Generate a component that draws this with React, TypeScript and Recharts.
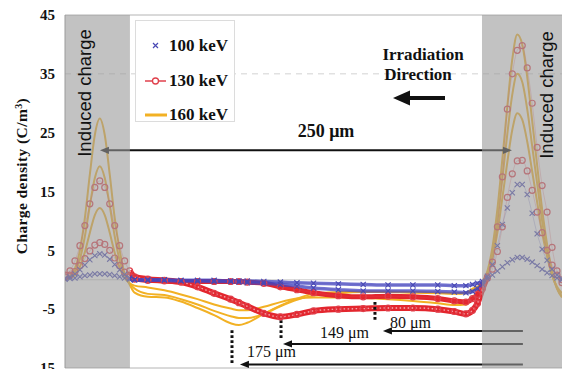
import {
  LineChart,
  Line,
  XAxis,
  YAxis,
  ReferenceArea,
  ReferenceLine,
  Legend
} from "recharts";

/* ---------- DATA (position in um, charge density in C/m3) ---------- */

const positions = [
  0, 3, 6, 9, 12, 15, 18, 21, 24, 27, 30, 33, 36, 39, 42,
  50, 60, 70, 80, 90, 100, 105, 110, 120, 130, 140, 150, 165, 180, 195, 210, 225, 235, 242, 246,
  249, 252, 255, 258, 261, 264, 267, 270, 273, 276, 279, 282, 285, 288, 291, 294, 297, 300
];

// 160 keV, three curves
const kev160a = [
  0.1, 0.6, 1.9, 5.0, 10.5, 17.9, 24.6, 27.4, 24.6, 17.9, 10.5, 5.0, 1.0, -0.8, -2.2,
  -2.9, -3.0, -3.7, -4.8, -6.0, -7.4, -7.7, -7.3, -5.8, -4.4, -3.2, -2.4, -2.1, -2.0, -2.0, -2.1, -2.2, -2.3, -2.2, -1.5,
  -1.2, -0.3, 1.5, 5.5, 12.0, 20.5, 29.5, 37.5, 41.7, 40.0, 34.5, 27.0, 19.5, 12.0, 6.0, 1.5, -1.5, -3.0
];
const kev160b = [
  0.1, 0.4, 1.3, 3.5, 7.4, 12.6, 17.3, 19.3, 17.3, 12.6, 7.4, 3.3, 0.8, -0.6, -1.5,
  -2.4, -2.6, -3.3, -4.2, -5.3, -6.2, -6.5, -6.5, -5.8, -4.5, -3.4, -2.7, -2.3, -2.1, -2.1, -2.2, -2.3, -2.4, -2.3, -1.8,
  -1.4, -0.6, 1.0, 4.5, 10.0, 17.2, 24.8, 31.5, 35.0, 33.6, 29.0, 22.7, 16.4, 10.0, 5.0, 1.0, -1.5, -2.8
];
const kev160c = [
  0, 0.3, 0.8, 2.2, 4.7, 8.0, 11.0, 12.2, 11.0, 8.0, 4.6, 2.0, 0.3, -0.6, -1.0,
  -1.3, -1.8, -2.5, -3.3, -4.2, -4.9, -5.2, -5.2, -4.6, -3.8, -3.2, -3.0, -3.0, -3.1, -3.3, -3.6, -4.0, -4.3, -4.2, -3.0,
  -2.0, -0.8, 0.8, 3.6, 8.0, 13.9, 20.0, 25.5, 28.3, 27.2, 23.5, 18.4, 13.2, 8.0, 4.0, 0.7, -1.2, -2.3
];

// 130 keV, two curves
const kev130a = [
  0.8, 1.5, 3.2, 5.8, 9.2, 12.9, 15.7, 16.8, 15.7, 12.9, 9.2, 5.8, 3.2, 1.5, 0.5,
  0.1, -0.1, -0.4, -1.2, -2.3, -3.3, -3.9, -4.5, -5.7, -6.3, -5.9, -5.3, -5.0, -4.9, -4.8, -4.8, -5.0, -5.4, -5.8, -5.2,
  -4.0, -1.5, 0.5, 3.0, 9.0, 17.5, 29.0, 35.0, 39.0, 39.8, 36.0, 30.0, 22.5, 16.0, 11.5, 5.5, 1.5, -0.5
];
const kev130b = [
  0.5, 0.8, 1.4, 2.4, 3.6, 4.9, 5.9, 6.3, 6.0, 5.0, 3.7, 2.4, 1.3, 0.5, 0.1,
  -0.1, -0.2, -0.3, -0.3, -0.3, -0.3, -0.3, -0.4, -0.6, -1.2, -1.7, -2.2, -2.7, -2.9, -2.8, -2.9, -3.2, -3.6, -3.8, -3.2,
  -2.5, -1.0, 0.3, 1.8, 4.8, 9.0, 14.0, 18.0, 20.2, 20.3, 18.5, 15.2, 11.5, 8.0, 5.0, 2.5, 0.8, 0
];

// 100 keV, two curves
const kev100a = [
  0.2, 0.5, 1.0, 1.7, 2.5, 3.4, 4.1, 4.4, 4.2, 3.5, 2.6, 1.7, 0.9, 0.3, 0,
  -0.1, -0.1, -0.2, -0.2, -0.3, -0.3, -0.4, -0.5, -0.6, -0.8, -1.1, -1.4, -1.7, -1.9, -1.9, -1.9, -2.0, -2.1, -2.2, -2.0,
  -1.5, -0.8, 0.6, 2.6, 5.8, 9.4, 12.2, 14.8, 16.2, 16.2, 14.5, 11.3, 7.8, 5.2, 3.3, 1.8, 0.8, 0.2
];
const kev100b = [
  0.1, 0.2, 0.3, 0.5, 0.7, 0.8, 1.0, 1.0, 1.0, 0.9, 0.7, 0.5, 0.3, 0.1, 0,
  0, 0, -0.1, -0.1, -0.1, -0.2, -0.2, -0.2, -0.3, -0.4, -0.5, -0.6, -0.7, -0.8, -0.9, -0.9, -0.9, -1.0, -1.0, -0.8,
  -0.6, -0.3, 0.2, 0.8, 1.5, 2.2, 2.9, 3.4, 3.8, 3.8, 3.5, 3.0, 2.4, 1.8, 1.2, 0.7, 0.3, 0
];

const yTicks = [-15, -5, 5, 15, 25, 35, 45];
const legendItems = ["100 keV", "130 keV", "160 keV"];

// induced charge regions (um)
const leftBand = [0, 39.2];
const rightBand = [251.7, 300];

// penetration markers: [dotted x, dotted top, dotted bottom, arrow tip x, arrow y]
const depthMarks = [
  [187.1, -3.8, -6.9, 191.9, -8.7],
  [130.4, -6.9, -10.3, 131.6, -10.9],
  [100.8, -8.6, -14.4, 105.6, -14.4]
];
const arrowStart = 276.4;
const spanArrow = [21.1, 269.8, 22.0];

/* ---------- COLORS ---------- */

const GOLD = "#f2b124";
const RED = "#e3262e";
const RED_MARK = "#e0404c";
const BLUE = "#4444c0";
const BLUE_MARK = "#4848b4";
const SERIF = "'Liberation Serif', 'Times New Roman', serif";
const SANS = "'Liberation Sans', Arial, sans-serif";

const rows = positions.map((x, i) => ({
  x,
  y160a: kev160a[i],
  y160b: kev160b[i],
  y160c: kev160c[i],
  r130a: kev130a[i],
  r130b: kev130b[i],
  b100a: kev100a[i],
  b100b: kev100b[i]
}));

const band = rows.filter(r => r.x >= 39 && r.x <= 255);

/* ---------- MARKERS ---------- */

function CrossDot(props: any) {
  const { cx, cy, index } = props;
  if (cx == null || cy == null) return <g key={`n${index}`} />;
  const s = 2.6;
  return (
    <path
      key={`c${index}`}
      d={`M${cx - s},${cy - s}L${cx + s},${cy + s}M${cx - s},${cy + s}L${cx + s},${cy - s}`}
      stroke={BLUE_MARK}
      strokeWidth={1.1}
      fill="none"
    />
  );
}

function ArrowShape(props: any) {
  const { x1, y1, x2, y2, both } = props;
  const head = 9;
  const half = 3.6;
  const dir = x2 > x1 ? 1 : -1;
  const tip = (x: number, y: number, d: number) =>
    `M${x},${y}L${x - d * head},${y - half}L${x - d * head},${y + half}Z`;
  return (
    <g>
      <line
        x1={both ? x1 + dir * head * 0.8 : x1}
        y1={y1}
        x2={x2 - dir * head * 0.8}
        y2={y2}
        stroke="#111"
        strokeWidth={2}
      />
      <path d={tip(x2, y2, dir)} fill="#111" />
      {both && <path d={tip(x1, y1, -dir)} fill="#111" />}
    </g>
  );
}

/* ---------- LEGEND ---------- */

function LegendBox() {
  return (
    <div
      style={{
        width: 100,
        height: 102,
        boxSizing: "border-box",
        border: "1px solid #dcdcdc",
        background: "#fff",
        fontFamily: SERIF,
        fontWeight: "bold",
        fontSize: 17,
        color: "#111",
        paddingTop: 8
      }}
    >
      {legendItems.map((label, i) => (
        <div key={label} style={{ display: "flex", alignItems: "center", height: 34.5 }}>
          <svg width={30} height={12} style={{ marginLeft: 6 }}>
            {i === 0 && (
              <path d="M11,3L16,8M11,8L16,3" stroke={BLUE_MARK} strokeWidth={1.2} />
            )}
            {i === 1 && (
              <g>
                <line x1={3} y1={6} x2={24} y2={6} stroke={RED_MARK} strokeWidth={1.5} />
                <circle cx={13.5} cy={6} r={3} fill="#fff" stroke={RED_MARK} strokeWidth={1.3} />
              </g>
            )}
            {i === 2 && <line x1={3} y1={6} x2={25} y2={6} stroke={GOLD} strokeWidth={3} />}
          </svg>
          <span style={{ marginLeft: -3 }}>{label}</span>
        </div>
      ))}
    </div>
  );
}

export default function App() {

  return (

    <div style={{ position: "absolute", left: 0, top: 0, width: 562, height: 369, background: "#fff", overflow: "hidden" }}>

      <LineChart width={562} height={369} margin={{ top: 15, right: 0, bottom: 1, left: 0 }}>

        <XAxis type="number" dataKey="x" domain={[0, 300]} allowDataOverflow hide />

        <YAxis
          type="number"
          domain={[-15, 45]}
          ticks={yTicks}
          interval={0}
          width={65}
          allowDataOverflow
          tickLine={false}
          tickSize={0}
          tickMargin={10}
          axisLine={{ stroke: "#9a9a9a" }}
          tick={{ fontFamily: SERIF, fontWeight: "bold", fontSize: 15, fill: "#111" }}
        />

        <ReferenceLine y={45} stroke="#b4b4b4" />
        <ReferenceLine y={-15} stroke="#b4b4b4" />
        <ReferenceLine y={35} stroke="#d2d2d2" strokeDasharray="6 5" />
        <ReferenceLine y={0} stroke="#cfcfcf" />

        {/* 160 keV */}
        <Line data={rows} dataKey="y160a" type="monotone" stroke={GOLD} strokeWidth={2} dot={false} isAnimationActive={false} />
        <Line data={rows} dataKey="y160b" type="monotone" stroke={GOLD} strokeWidth={2} dot={false} isAnimationActive={false} />
        <Line data={rows} dataKey="y160c" type="monotone" stroke={GOLD} strokeWidth={2} dot={false} isAnimationActive={false} />

        {/* 130 keV */}
        <Line data={band} dataKey="r130b" type="monotone" stroke={RED} strokeWidth={5} dot={false} isAnimationActive={false} />
        <Line data={band} dataKey="r130a" type="monotone" stroke={RED} strokeWidth={6} dot={false} isAnimationActive={false} />
        <Line data={band} dataKey="r130a" type="monotone" stroke="#ffffff" strokeOpacity={0.75} strokeWidth={1.3} strokeDasharray="1.5 2.5" dot={false} isAnimationActive={false} />
        <Line
          data={rows}
          dataKey="r130a"
          type="monotone"
          stroke={RED_MARK}
          strokeOpacity={0.3}
          strokeWidth={1}
          dot={{ r: 3, stroke: RED_MARK, strokeWidth: 1.2, fill: "none", strokeOpacity: 1 }}
          isAnimationActive={false}
        />
        <Line
          data={rows}
          dataKey="r130b"
          type="monotone"
          stroke={RED_MARK}
          strokeOpacity={0.3}
          strokeWidth={1}
          dot={{ r: 3, stroke: RED_MARK, strokeWidth: 1.2, fill: "none", strokeOpacity: 1 }}
          isAnimationActive={false}
        />

        {/* 100 keV */}
        <Line data={band} dataKey="b100a" type="monotone" stroke={BLUE} strokeOpacity={0.75} strokeWidth={3.5} dot={false} isAnimationActive={false} />
        <Line data={band} dataKey="b100b" type="monotone" stroke={BLUE} strokeOpacity={0.75} strokeWidth={3.5} dot={false} isAnimationActive={false} />
        <Line data={rows} dataKey="b100a" type="monotone" stroke={BLUE_MARK} strokeOpacity={0.3} strokeWidth={1} dot={(p: any) => <CrossDot {...p} />} isAnimationActive={false} />
        <Line data={rows} dataKey="b100b" type="monotone" stroke={BLUE_MARK} strokeOpacity={0.3} strokeWidth={1} dot={(p: any) => <CrossDot {...p} />} isAnimationActive={false} />

        {/* annotations */}
        <ReferenceLine
          segment={[{ x: spanArrow[0], y: spanArrow[2] }, { x: spanArrow[1], y: spanArrow[2] }]}
          shape={(p: any) => <ArrowShape {...p} both />}
        />
        {depthMarks.map(([dx, top, bottom], i) => (
          <ReferenceLine
            key={`d${i}`}
            segment={[{ x: dx, y: top }, { x: dx, y: bottom }]}
            stroke="#111"
            strokeWidth={3}
            strokeDasharray="2.6 2.4"
          />
        ))}
        {depthMarks.map(([, , , tipX, ay], i) => (
          <ReferenceLine
            key={`a${i}`}
            segment={[{ x: arrowStart, y: ay }, { x: tipX, y: ay }]}
            shape={(p: any) => <ArrowShape {...p} />}
          />
        ))}

        <ReferenceArea x1={leftBand[0]} x2={leftBand[1]} y1={-15} y2={45} fill="#999999" fillOpacity={0.6} stroke="none" zIndex={1500} />
        <ReferenceArea x1={rightBand[0]} x2={rightBand[1]} y1={-15} y2={45} fill="#999999" fillOpacity={0.6} stroke="none" zIndex={1500} />

        <Legend
          layout="vertical"
          align="center"
          verticalAlign="middle"
          wrapperStyle={{ top: 20, left: 135, width: 100 }}
          content={() => <LegendBox />}
        />

      </LineChart>

      {/* TEXT OVERLAY */}

      <svg width={562} height={369} style={{ position: "absolute", left: 0, top: 0, pointerEvents: "none" }}>

        <text transform="translate(27,176) rotate(-90)" textAnchor="middle" fontFamily={SERIF} fontWeight="bold" fontSize={15.5} letterSpacing={0.4} fill="#111">
          Charge density (C/m<tspan dy={-5} fontSize={10}>3</tspan><tspan dy={5}>)</tspan>
        </text>

        <text transform="translate(91,93) rotate(-90)" textAnchor="middle" fontFamily={SANS} fontSize={18.5} fill="#111">Induced charge</text>
        <text transform="translate(553,95) rotate(-90)" textAnchor="middle" fontFamily={SANS} fontSize={18.5} fill="#111">Induced charge</text>

        <text x={423} y={60} textAnchor="middle" fontFamily={SERIF} fontWeight="bold" fontSize={17} fill="#111">Irradiation</text>
        <text x={418} y={80} textAnchor="middle" fontFamily={SERIF} fontWeight="bold" fontSize={17} fill="#111">Direction</text>
        <path d="M393,98L410,90.5L410,96L445,96L445,100L410,100L410,105.5Z" fill="#111" />

        <text x={326} y={137} textAnchor="middle" fontFamily={SERIF} fontWeight="bold" fontSize={18} fill="#111">250 μm</text>

        <text x={390} y={328} fontFamily={SERIF} fontSize={16} fill="#111">80 μm</text>
        <text x={320} y={338} fontFamily={SERIF} fontSize={16} fill="#111">149 μm</text>
        <text x={247} y={357} fontFamily={SERIF} fontSize={16} fill="#111">175 μm</text>

      </svg>

    </div>

  );

}
